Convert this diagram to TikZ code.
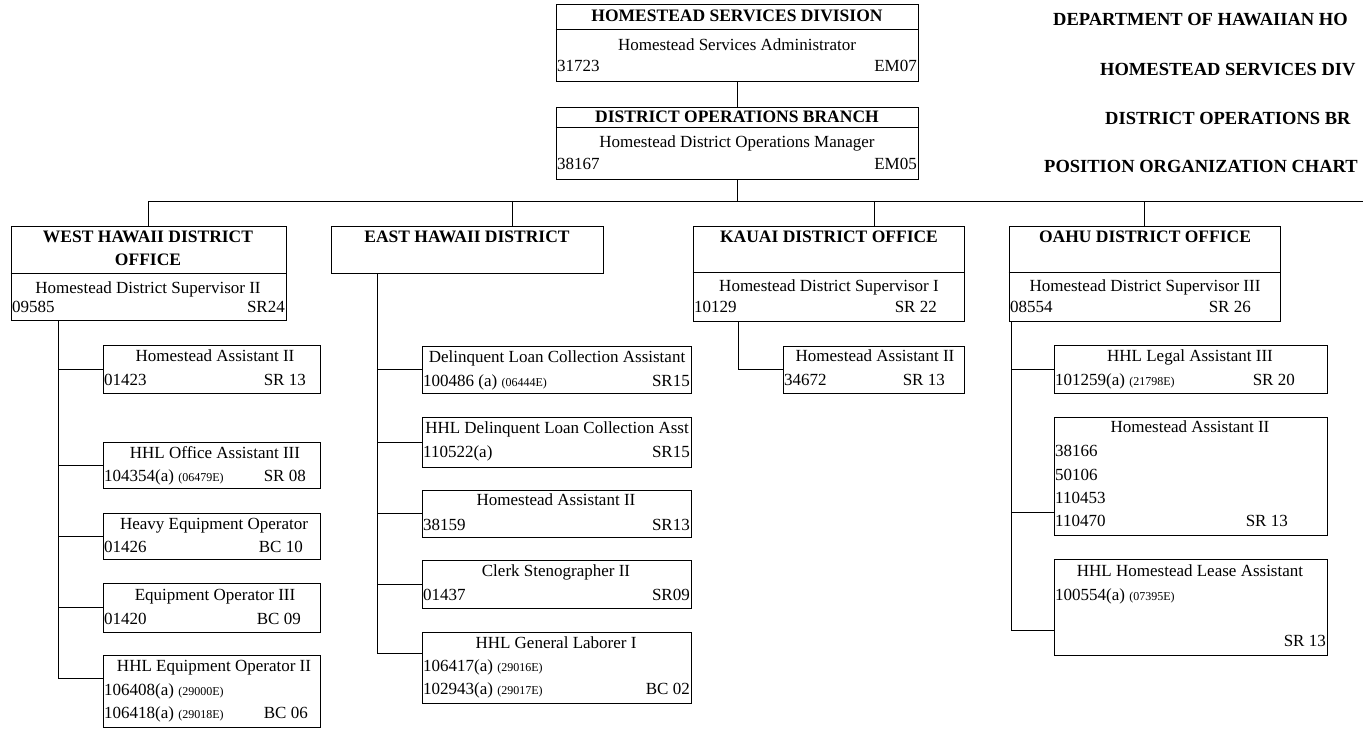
\documentclass[tikz,border=0pt]{standalone}
\usepackage{fontspec}
\setmainfont{Liberation Serif}
\newcommand{\chico}[1]{{\fontsize{12}{13}\selectfont #1}}
\tikzset{
  caja/.style={draw, line width=0.9pt, inner sep=0pt},
  linea/.style={line width=0.9pt},
  tit/.style={font=\bfseries\fontsize{17.5}{20}\selectfont, inner sep=0pt, text height=12pt, text depth=3pt},
  txt/.style={font=\fontsize{17}{20}\selectfont, inner sep=0pt, text height=11.5pt, text depth=3.5pt},
  encab/.style={font=\bfseries\fontsize{18.5}{22}\selectfont, inner sep=0pt, anchor=west},
}

\begin{document}
\begin{tikzpicture}[x=1pt, y=-1pt]
    \clip (0,0) rectangle (1363,730);

    % Encabezado
    \node (enc1) at (1053,20) [encab] {DEPARTMENT OF HAWAIIAN HO};
    \node (enc2) at (1100,70) [encab] {HOMESTEAD SERVICES DIV};
    \node (enc3) at (1105,118) [encab] {DISTRICT OPERATIONS BR};
    \node (enc4) at (1044,166) [encab] {POSITION ORGANIZATION CHART};

    % Division
    \node (hsd) at (737,42.5) [caja, minimum width=362, minimum height=77] {};
    \draw[linea] ([yshift=-26]hsd.north west) -- ([yshift=-26]hsd.north east);
    \node (hsd-t) at (737,17) [tit] {HOMESTEAD SERVICES DIVISION};
    \node (hsd-p) at (737,47) [txt] {Homestead Services Administrator};
    \node (hsd-n) at (557,68) [txt, anchor=west] {31723};
    \node (hsd-g) at (917,68) [txt, anchor=east] {EM07};

    % Rama
    \node (dob) at (737,143) [caja, minimum width=362, minimum height=72] {};
    \draw[linea] ([yshift=-21]dob.north west) -- ([yshift=-21]dob.north east);
    \node (dob-t) at (737,118) [tit] {DISTRICT OPERATIONS BRANCH};
    \node (dob-p) at (737,144) [txt] {Homestead District Operations Manager};
    \node (dob-n) at (557,166) [txt, anchor=west] {38167};
    \node (dob-g) at (917,166) [txt, anchor=east] {EM05};

    % Oficinas de distrito
    \node (oeste) at (148.5,273) [caja, minimum width=275, minimum height=94] {};
    \draw[linea] ([yshift=-48]oeste.north west) -- ([yshift=-48]oeste.north east);
    \node (oeste-t1) at (148,238) [tit] {WEST HAWAII DISTRICT};
    \node (oeste-t2) at (148,261) [tit] {OFFICE};
    \node (oeste-p) at (148,289) [txt] {Homestead District Supervisor II};
    \node (oeste-n) at (12,308) [txt, anchor=west] {09585};
    \node (oeste-g) at (285,308) [txt, anchor=east] {SR24};

    \node (este) at (467,249.5) [caja, minimum width=272, minimum height=47] {};
    \node (este-t) at (467,238) [tit] {EAST HAWAII DISTRICT};

    \node (kauai) at (828.5,273.5) [caja, minimum width=271, minimum height=95] {};
    \draw[linea] ([yshift=-47]kauai.north west) -- ([yshift=-47]kauai.north east);
    \node (kauai-t) at (829,238) [tit] {KAUAI DISTRICT OFFICE};
    \node (kauai-p) at (829,287) [txt] {Homestead District Supervisor I};
    \node (kauai-n) at (694,308) [txt, anchor=west] {10129};
    \node (kauai-g) at (937,308) [txt, anchor=east] {SR 22};

    \node (oahu) at (1144.5,273.5) [caja, minimum width=271, minimum height=95] {};
    \draw[linea] ([yshift=-47]oahu.north west) -- ([yshift=-47]oahu.north east);
    \node (oahu-t) at (1145,238) [tit] {OAHU DISTRICT OFFICE};
    \node (oahu-p) at (1145,287) [txt] {Homestead District Supervisor III};
    \node (oahu-n) at (1010,308) [txt, anchor=west] {08554};
    \node (oahu-g) at (1251,308) [txt, anchor=east] {SR 26};

    % Puestos West Hawaii
    \node (oha) at (211.5,369) [caja, minimum width=217, minimum height=48] {};
    \node (oha-p) at (215,357) [txt] {Homestead Assistant II};
    \node (oha-n) at (104,381) [txt, anchor=west] {01423};
    \node (oha-g) at (306,381) [txt, anchor=east] {SR 13};

    \node (ohoa) at (211.5,465) [caja, minimum width=217, minimum height=46] {};
    \node (ohoa-p) at (215,454) [txt] {HHL Office Assistant III};
    \node (ohoa-n) at (104,477) [txt, anchor=west] {104354(a) \chico{(06479E)}};
    \node (ohoa-g) at (306,477) [txt, anchor=east] {SR 08};

    \node (oheo) at (211.5,536) [caja, minimum width=217, minimum height=46] {};
    \node (oheo-p) at (214,525) [txt] {Heavy Equipment Operator};
    \node (oheo-n) at (104,548) [txt, anchor=west] {01426};
    \node (oheo-g) at (303,548) [txt, anchor=east] {BC 10};

    \node (oeo) at (211.5,607.5) [caja, minimum width=217, minimum height=49] {};
    \node (oeo-p) at (215,596) [txt] {Equipment Operator III};
    \node (oeo-n) at (104,620) [txt, anchor=west] {01420};
    \node (oeo-g) at (301,620) [txt, anchor=east] {BC 09};

    \node (ohheo) at (211.5,691) [caja, minimum width=217, minimum height=72] {};
    \node (ohheo-p) at (214,667) [txt] {HHL Equipment Operator II};
    \node (ohheo-n1) at (104,691) [txt, anchor=west] {106408(a) \chico{(29000E)}};
    \node (ohheo-n2) at (104,714) [txt, anchor=west] {106418(a) \chico{(29018E)}};
    \node (ohheo-g) at (308,714) [txt, anchor=east] {BC 06};

    % Puestos East Hawaii
    \node (edl) at (556.5,369.5) [caja, minimum width=269, minimum height=47] {};
    \node (edl-p) at (557,358) [txt] {Delinquent Loan Collection Assistant};
    \node (edl-n) at (423,382) [txt, anchor=west] {100486 (a) \chico{(06444E)}};
    \node (edl-g) at (690,382) [txt, anchor=east] {SR15};

    \node (ehd) at (556.5,442) [caja, minimum width=269, minimum height=50] {};
    \node (ehd-p) at (557,429) [txt] {HHL Delinquent Loan Collection Asst};
    \node (ehd-n) at (423,453) [txt, anchor=west] {110522(a)};
    \node (ehd-g) at (690,453) [txt, anchor=east] {SR15};

    \node (eha) at (556.5,513.5) [caja, minimum width=269, minimum height=47] {};
    \node (eha-p) at (556,501) [txt] {Homestead Assistant II};
    \node (eha-n) at (423,526) [txt, anchor=west] {38159};
    \node (eha-g) at (690,526) [txt, anchor=east] {SR13};

    \node (ecs) at (556.5,584) [caja, minimum width=269, minimum height=48] {};
    \node (ecs-p) at (556,572) [txt] {Clerk Stenographer II};
    \node (ecs-n) at (423,596) [txt, anchor=west] {01437};
    \node (ecs-g) at (690,596) [txt, anchor=east] {SR09};

    \node (ehg) at (556.5,667.5) [caja, minimum width=269, minimum height=71] {};
    \node (ehg-p) at (556,644) [txt] {HHL General Laborer I};
    \node (ehg-n1) at (423,667) [txt, anchor=west] {106417(a) \chico{(29016E)}};
    \node (ehg-n2) at (423,690) [txt, anchor=west] {102943(a) \chico{(29017E)}};
    \node (ehg-g) at (690,690) [txt, anchor=east] {BC 02};

    % Puesto Kauai
    \node (kha) at (873.5,369.5) [caja, minimum width=181, minimum height=47] {};
    \node (kha-p) at (875,357) [txt] {Homestead Assistant II};
    \node (kha-n) at (784,381) [txt, anchor=west] {34672};
    \node (kha-g) at (945,381) [txt, anchor=east] {SR 13};

    % Puestos Oahu
    \node (hla) at (1190.5,369) [caja, minimum width=273, minimum height=48] {};
    \node (hla-p) at (1190,357) [txt] {HHL Legal Assistant III};
    \node (hla-n) at (1055,381) [txt, anchor=west] {101259(a) \chico{(21798E)}};
    \node (hla-g) at (1295,381) [txt, anchor=east] {SR 20};

    \node (hha) at (1190.5,476) [caja, minimum width=273, minimum height=118] {};
    \node (hha-p) at (1190,428) [txt] {Homestead Assistant II};
    \node (hha-n1) at (1055,452) [txt, anchor=west] {38166};
    \node (hha-n2) at (1055,476) [txt, anchor=west] {50106};
    \node (hha-n3) at (1055,499) [txt, anchor=west] {110453};
    \node (hha-n4) at (1055,522) [txt, anchor=west] {110470};
    \node (hha-g) at (1288,522) [txt, anchor=east] {SR 13};

    \node (hhl) at (1190.5,607) [caja, minimum width=273, minimum height=96] {};
    \node (hhl-p) at (1190,572) [txt] {HHL Homestead Lease Assistant};
    \node (hhl-n) at (1055,596) [txt, anchor=west] {100554(a) \chico{(07395E)}};
    \node (hhl-g) at (1326,642) [txt, anchor=east] {SR 13};

    % Conectores
    \coordinate (bus) at (1363,201);
    \coordinate (bE) at (512,201);
    \coordinate (bK) at (874,201);
    \draw[linea] (hsd.south) -- (dob.north);
    \draw[linea] (dob.south) -- (dob.south |- bus);
    \draw[linea] (oeste.north) |- (bus);
    \draw[linea] (bE) -- (bE |- este.north);
    \draw[linea] (bK) -- (bK |- kauai.north);
    \draw[linea] (oahu.north) -- (oahu.north |- bus);

    \coordinate (sO) at (58,320);
    \foreach \h in {oha,ohoa,oheo,oeo}
        \draw[linea] (sO) |- (\h.west);
    \draw[linea] (sO) |- ([yshift=13pt]ohheo.west);

    \coordinate (sE) at (377,273);
    \foreach \h in {edl,ehd,eha,ecs}
        \draw[linea] (sE) |- (\h.west);
    \draw[linea] (sE) |- ([yshift=14.5pt]ehg.west);

    \coordinate (sK) at (738,321);
    \draw[linea] (sK) |- (kha.west);

    \coordinate (sH) at (1011,321);
    \draw[linea] (sH) |- (hla.west);
    \draw[linea] (sH) |- ([yshift=-36pt]hha.west);
    \draw[linea] (sH) |- ([yshift=-23pt]hhl.west);
\end{tikzpicture}
\end{document}
